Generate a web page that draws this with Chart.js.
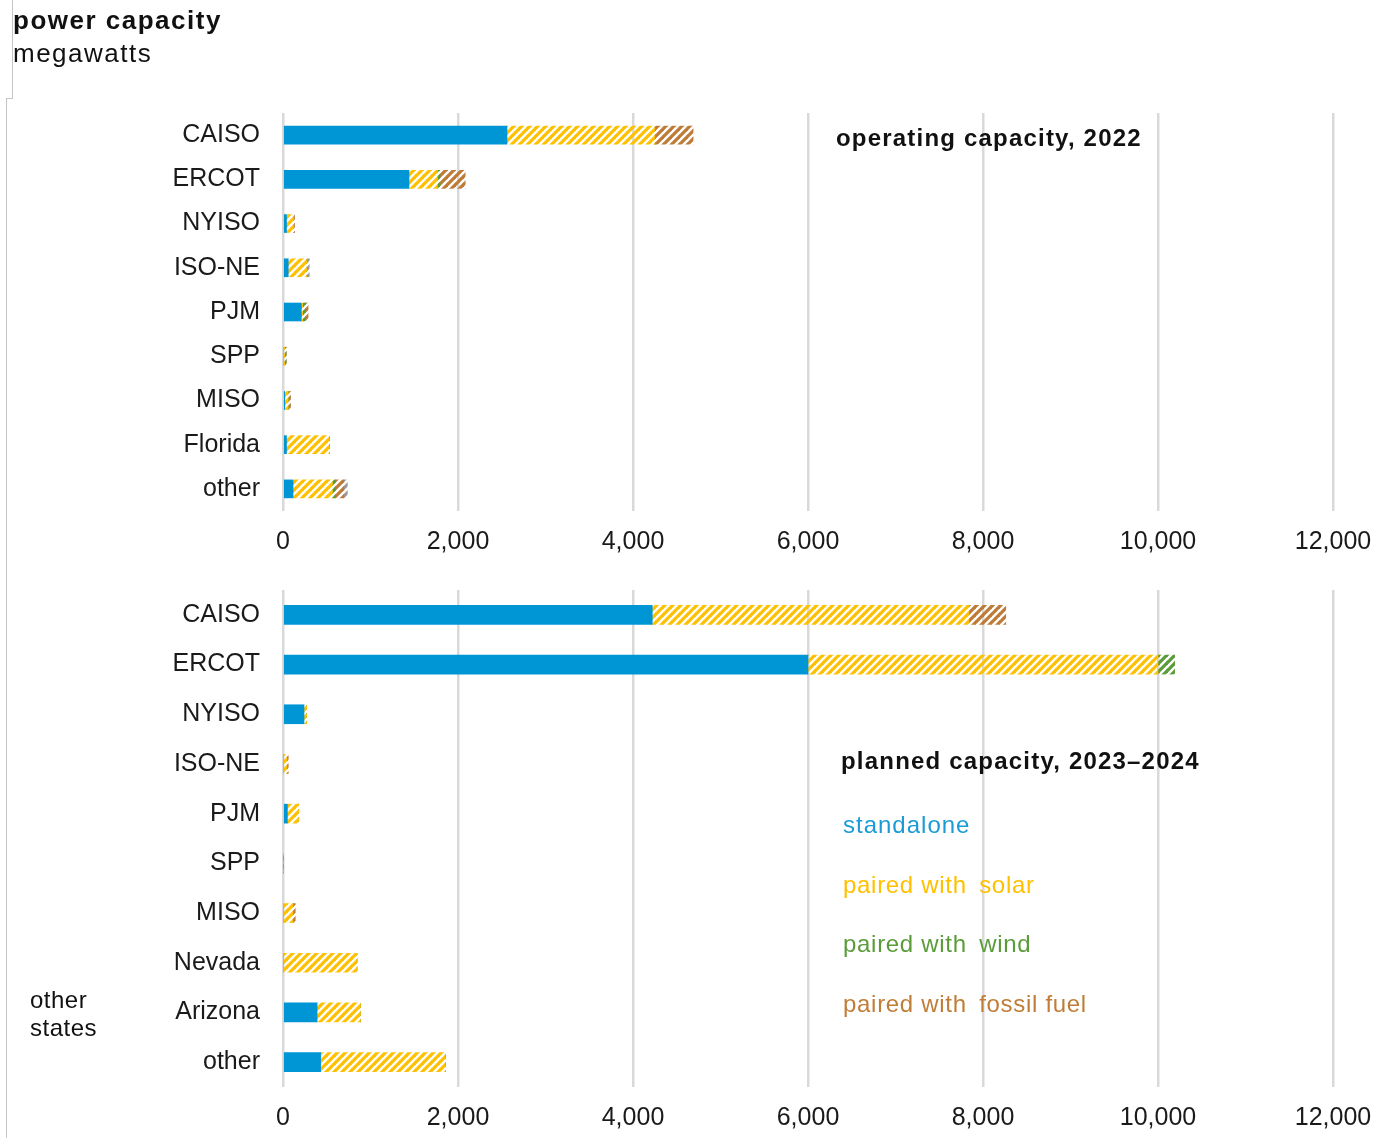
<!DOCTYPE html>
<html>
<head>
<meta charset="utf-8">
<script src="https://cdn.jsdelivr.net/npm/chart.js@4/dist/chart.umd.min.js"></script>
<style>
  body { margin: 0; background: #fff; }
  #wrap { position: relative; width: 1384px; height: 1138px; overflow: hidden; font-family: "Liberation Sans", Arial, sans-serif; color: #111; }
  canvas { position: absolute; left: 0; }
  .txt { position: absolute; white-space: nowrap; letter-spacing: 0.7px; font-size: 24px; line-height: 28px; }
  .bold { font-weight: bold; letter-spacing: 1.2px; }
  .gap { margin-left: 5px; }
  .line { position: absolute; background: #c4c4c4; }
</style>
</head>
<body>
<div id="wrap">
  <canvas id="top" width="1384" height="565" style="top:0"></canvas>
  <canvas id="bottom" width="1384" height="588" style="top:550px"></canvas>

  <div class="line" style="left:12px;top:0;width:1px;height:98px"></div>
  <div class="line" style="left:6px;top:98px;width:7px;height:1px"></div>
  <div class="line" style="left:6px;top:98px;width:1px;height:1040px"></div>

  <div class="txt" style="left:13px;top:4px;font-size:26px;line-height:33px;letter-spacing:1.5px">
    <span style="font-weight:bold">power capacity</span><br>megawatts
  </div>
  <div class="txt bold" style="left:836px;top:124px">operating capacity, 2022</div>
  <div class="txt bold" style="left:841px;top:747px">planned capacity, 2023–2024</div>
  <div class="txt" style="left:843px;top:811px;color:#1a9bd7;letter-spacing:1px">standalone</div>
  <div class="txt" style="left:843px;top:871px;color:#ffc000">paired with <span class="gap">solar</span></div>
  <div class="txt" style="left:843px;top:930px;color:#5b9c3a">paired with <span class="gap">wind</span></div>
  <div class="txt" style="left:843px;top:990px;color:#c07d38">paired with <span class="gap">fossil fuel</span></div>
  <div class="txt" style="left:30px;top:986px;letter-spacing:0.5px">other<br>states</div>
</div>

<script>
// operating capacity, 2022 (MW)
const operatingRegions = ["CAISO", "ERCOT", "NYISO", "ISO-NE", "PJM", "SPP", "MISO", "Florida", "other"];
const operatingStandalone = [2560, 1440, 40, 60, 210, 0, 20, 40, 115];
const operatingSolar = [1690, 325, 80, 210, 15, 20, 40, 490, 450];
const operatingWind = [0, 30, 0, 0, 30, 15, 0, 0, 30];
const operatingFossil = [435, 285, 10, 0, 30, 0, 25, 0, 100];
const operatingOther = [0, 0, 0, 30, 0, 0, 0, 0, 40];

// planned capacity, 2023-2024 (MW)
const plannedRegions = ["CAISO", "ERCOT", "NYISO", "ISO-NE", "PJM", "SPP", "MISO", "Nevada", "Arizona", "other"];
const plannedStandalone = [4220, 6000, 240, 0, 50, 0, 0, 0, 390, 430];
const plannedSolar = [3620, 4000, 30, 45, 130, 0, 115, 845, 495, 1425];
const plannedWind = [0, 190, 0, 0, 0, 0, 0, 0, 0, 0];
const plannedFossil = [420, 0, 0, 15, 0, 0, 25, 0, 0, 0];

const xTicks = [0, 2000, 4000, 6000, 8000, 10000, 12000];

const BLUE = "#0096d6";
const FONT = "'Liberation Sans', Arial, sans-serif";

// diagonal "/" hatch like the office-style wide upward diagonal
function hatch(color) {
  const size = 8;
  const c = document.createElement("canvas");
  c.width = size;
  c.height = size;
  const g = c.getContext("2d");
  g.strokeStyle = color;
  g.lineWidth = 3.2;
  g.lineCap = "square";
  for (const off of [-size, 0, size]) {
    g.beginPath();
    g.moveTo(off, size);
    g.lineTo(off + size, 0);
    g.stroke();
  }
  return g.createPattern(c, "repeat");
}

const solarFill = hatch("#ffc000");
const windFill = hatch("#5b9c3a");
const fossilFill = hatch("#bf7b36");
const otherFill = hatch("#9a9a9a");

function makeChart(id, labels, series, opts) {
  return new Chart(document.getElementById(id), {
    type: "bar",
    data: {
      labels,
      datasets: series.map(([label, data, fill]) => ({
        label,
        data,
        backgroundColor: fill,
        borderWidth: 0,
        barThickness: opts.barThickness,
      })),
    },
    options: {
      indexAxis: "y",
      responsive: false,
      animation: false,
      devicePixelRatio: 1,
      layout: { padding: { top: opts.padTop, right: 51, left: 0, bottom: 0 } },
      plugins: { legend: { display: false }, tooltip: { enabled: false } },
      scales: {
        x: {
          stacked: true,
          min: 0,
          max: 12000,
          afterBuildTicks: (scale) => {
            scale.ticks = xTicks.map((v) => ({ value: v }));
          },
          afterFit: (scale) => {
            scale.height = opts.xHeight;
            // the last label fits inside the layout padding already
            scale.paddingRight = 0;
          },
          grid: { color: "#d9d9d9", lineWidth: 2.5, drawTicks: false },
          border: { display: false },
          ticks: {
            padding: 16,
            color: "#1a1a1a",
            font: { family: FONT, size: 25 },
            maxRotation: 0,
            callback: (v) => v.toLocaleString("en-US"),
          },
        },
        y: {
          stacked: true,
          afterFit: (scale) => {
            scale.width = 283;
          },
          grid: { display: false, drawTicks: false },
          border: { display: false },
          ticks: {
            padding: 23,
            color: "#1a1a1a",
            font: { family: FONT, size: 25 },
          },
        },
      },
    },
  });
}

makeChart(
  "top",
  operatingRegions,
  [
    ["standalone", operatingStandalone, BLUE],
    ["paired with solar", operatingSolar, solarFill],
    ["paired with wind", operatingWind, windFill],
    ["paired with fossil fuel", operatingFossil, fossilFill],
    ["other", operatingOther, otherFill],
  ],
  { padTop: 113, xHeight: 54, barThickness: 18 }
);

makeChart(
  "bottom",
  plannedRegions,
  [
    ["standalone", plannedStandalone, BLUE],
    ["paired with solar", plannedSolar, solarFill],
    ["paired with wind", plannedWind, windFill],
    ["paired with fossil fuel", plannedFossil, fossilFill],
  ],
  { padTop: 40, xHeight: 51, barThickness: 19 }
);
</script>
</body>
</html>
